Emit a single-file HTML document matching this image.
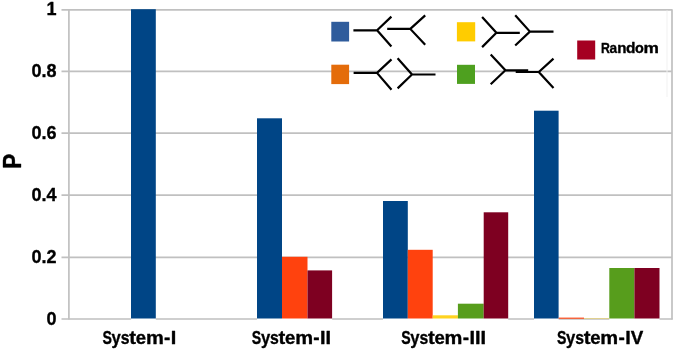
<!DOCTYPE html>
<html lang="en">
<head>
<meta charset="utf-8">
<title>Chart</title>
<style>
  html, body { margin: 0; padding: 0; background: #ffffff; }
  body { width: 675px; height: 349px; overflow: hidden; }
  svg { display: block; }
  .ax { font-family: "Liberation Sans", sans-serif; font-weight: bold; fill: #000; stroke: #000; stroke-width: 0.35px; stroke-linejoin: round; }
</style>
</head>
<body>
<svg width="675" height="349" viewBox="0 0 675 349">
  <rect x="0" y="0" width="675" height="349" fill="#ffffff"/>

  <!-- grid lines -->
  <g stroke="#c0c0c0" stroke-width="1.7" fill="none">
    <line x1="61.5" y1="9.8" x2="672" y2="9.8"/>
    <line x1="61.5" y1="71.4" x2="672" y2="71.4"/>
    <line x1="61.5" y1="133.2" x2="672" y2="133.2"/>
    <line x1="61.5" y1="195.2" x2="672" y2="195.2"/>
    <line x1="61.5" y1="257.3" x2="672" y2="257.3"/>
    <path d="M61.5 319 H131 M155.8 319 H257 M332.1 319 H383 M508.2 319 H534 M558.6 319 H609.3 M659.5 319 H672.7"/>
    <line x1="68.9" y1="9.2" x2="68.9" y2="319.6"/>
    <line x1="672" y1="9.2" x2="672" y2="319.6"/>
  </g>

  <line x1="667" y1="10.5" x2="667" y2="97" stroke="#f1f1f1" stroke-width="1"/>

  <!-- bars -->
  <g shape-rendering="auto">
    <!-- System-I -->
    <rect x="131" y="9.2" width="24.8" height="309.3" fill="#004586"/>
    <!-- System-II -->
    <rect x="257" y="118.3" width="25" height="200.2" fill="#004586"/>
    <rect x="282" y="256.8" width="25.5" height="61.7" fill="#ff420e"/>
    <rect x="307.5" y="270.4" width="24.6" height="48.1" fill="#7e0021"/>
    <!-- System-III -->
    <rect x="383" y="201" width="24.8" height="117.5" fill="#004586"/>
    <rect x="407.8" y="249.8" width="24.9" height="68.7" fill="#ff420e"/>
    <rect x="432.7" y="315.3" width="25.2" height="3.2" fill="#ffd320"/>
    <rect x="457.9" y="303.7" width="25.8" height="14.8" fill="#579d1c"/>
    <rect x="483.7" y="212.3" width="24.5" height="106.2" fill="#7e0021"/>
    <!-- System-IV -->
    <rect x="534" y="110.7" width="24.6" height="207.8" fill="#004586"/>
    <rect x="558.6" y="317.5" width="25.4" height="1.5" fill="#ff420e" opacity="0.75"/>
    <rect x="584" y="318" width="25.2" height="0.8" fill="#ffd320" opacity="0.45"/>
    <rect x="609.3" y="268" width="25.1" height="50.5" fill="#579d1c"/>
    <rect x="634.4" y="268" width="25.1" height="50.5" fill="#7e0021"/>
  </g>

  <!-- y axis labels -->
  <g class="ax" font-size="18" text-anchor="end">
    <text x="56.6" y="15.4">1</text>
    <text x="56.6" y="77">0.8</text>
    <text x="56.6" y="138.8">0.6</text>
    <text x="56.6" y="200.8">0.4</text>
    <text x="56.6" y="262.8">0.2</text>
    <text x="56.6" y="324.6">0</text>
  </g>
  <text class="ax" font-size="25" stroke="#000" stroke-width="0.4" text-anchor="middle" transform="translate(21.4 161.2) rotate(-90) scale(0.9 1)">P</text>

  <!-- x axis labels -->
  <g class="ax" font-size="19">
    <text y="343.7"><tspan x="102.50" textLength="9.40" lengthAdjust="spacingAndGlyphs">S</tspan><tspan x="111.60" textLength="9.25" lengthAdjust="spacingAndGlyphs">y</tspan><tspan x="120.80" textLength="8.80" lengthAdjust="spacingAndGlyphs">s</tspan><tspan x="129.25" textLength="6.75" lengthAdjust="spacingAndGlyphs">t</tspan><tspan x="135.80" textLength="10.30" lengthAdjust="spacingAndGlyphs">e</tspan><tspan x="145.90" textLength="17.87" lengthAdjust="spacingAndGlyphs">m</tspan><tspan x="164.00" textLength="6.33" lengthAdjust="spacingAndGlyphs">-</tspan><tspan x="170.80" textLength="5.53" lengthAdjust="spacingAndGlyphs">I</tspan></text>
    <text y="343.7"><tspan x="251.80" textLength="9.40" lengthAdjust="spacingAndGlyphs">S</tspan><tspan x="260.90" textLength="9.25" lengthAdjust="spacingAndGlyphs">y</tspan><tspan x="270.10" textLength="8.80" lengthAdjust="spacingAndGlyphs">s</tspan><tspan x="278.55" textLength="6.75" lengthAdjust="spacingAndGlyphs">t</tspan><tspan x="285.10" textLength="10.30" lengthAdjust="spacingAndGlyphs">e</tspan><tspan x="295.20" textLength="17.87" lengthAdjust="spacingAndGlyphs">m</tspan><tspan x="313.30" textLength="6.33" lengthAdjust="spacingAndGlyphs">-</tspan><tspan x="320.10" textLength="5.53" lengthAdjust="spacingAndGlyphs">I</tspan><tspan x="325.63" textLength="5.53" lengthAdjust="spacingAndGlyphs">I</tspan></text>
    <text y="343.7"><tspan x="401.20" textLength="9.40" lengthAdjust="spacingAndGlyphs">S</tspan><tspan x="410.30" textLength="9.25" lengthAdjust="spacingAndGlyphs">y</tspan><tspan x="419.50" textLength="8.80" lengthAdjust="spacingAndGlyphs">s</tspan><tspan x="427.95" textLength="6.75" lengthAdjust="spacingAndGlyphs">t</tspan><tspan x="434.50" textLength="10.30" lengthAdjust="spacingAndGlyphs">e</tspan><tspan x="444.60" textLength="17.87" lengthAdjust="spacingAndGlyphs">m</tspan><tspan x="462.70" textLength="6.33" lengthAdjust="spacingAndGlyphs">-</tspan><tspan x="469.50" textLength="5.53" lengthAdjust="spacingAndGlyphs">I</tspan><tspan x="475.03" textLength="5.53" lengthAdjust="spacingAndGlyphs">I</tspan><tspan x="480.56" textLength="5.53" lengthAdjust="spacingAndGlyphs">I</tspan></text>
    <text y="343.7"><tspan x="556.90" textLength="9.40" lengthAdjust="spacingAndGlyphs">S</tspan><tspan x="566.00" textLength="9.25" lengthAdjust="spacingAndGlyphs">y</tspan><tspan x="575.20" textLength="8.80" lengthAdjust="spacingAndGlyphs">s</tspan><tspan x="583.65" textLength="6.75" lengthAdjust="spacingAndGlyphs">t</tspan><tspan x="590.20" textLength="10.30" lengthAdjust="spacingAndGlyphs">e</tspan><tspan x="600.30" textLength="17.87" lengthAdjust="spacingAndGlyphs">m</tspan><tspan x="618.40" textLength="6.33" lengthAdjust="spacingAndGlyphs">-</tspan><tspan x="625.20" textLength="5.53" lengthAdjust="spacingAndGlyphs">I</tspan><tspan x="630.73" textLength="12.54" lengthAdjust="spacingAndGlyphs">V</tspan></text>
  </g>

  <!-- legend -->
  <g>
    <rect x="331.3" y="21.8" width="17.8" height="19.7" fill="#2f5c9c"/>
    <rect x="331.3" y="64.7" width="17.8" height="19.4" fill="#e46c0a"/>
    <rect x="456.9" y="22.2" width="18.3" height="19.2" fill="#ffcc00"/>
    <rect x="457" y="64.8" width="18" height="19.1" fill="#4ea01f"/>
    <rect x="577.2" y="40.5" width="18" height="19" fill="#a50021"/>
    <text class="ax" font-size="14.8" y="52.9"><tspan x="600.90" textLength="8.87" lengthAdjust="spacingAndGlyphs">R</tspan><tspan x="609.60" textLength="7.60" lengthAdjust="spacingAndGlyphs">a</tspan><tspan x="617.30" textLength="9.24" lengthAdjust="spacingAndGlyphs">n</tspan><tspan x="626.00" textLength="9.45" lengthAdjust="spacingAndGlyphs">d</tspan><tspan x="634.90" textLength="8.83" lengthAdjust="spacingAndGlyphs">o</tspan><tspan x="643.45" textLength="15.40" lengthAdjust="spacingAndGlyphs">m</tspan></text>
  </g>
  <g stroke="#000" stroke-width="2.2" fill="none" stroke-linecap="butt" stroke-linejoin="miter">
    <!-- blue row -->
    <path d="M353.4 30.3 H377.1 M391.4 16.6 L377.1 30.3 L391.4 46.4"/>
    <path d="M387.2 28.9 H410.3 M425.2 15.4 L410.3 28.9 L425.2 44.7"/>
    <!-- orange row -->
    <path d="M353.6 72.9 H377 M391.5 59.4 L377 72.9 L391.5 89.7"/>
    <path d="M435.5 74.5 H412 M397.6 58.3 L412 74.5 L397.6 88.4"/>
    <!-- yellow row -->
    <path d="M519.8 32.8 H496.4 M482.1 17 L496.4 32.8 L482.1 47.1"/>
    <path d="M553.5 31.6 H529.9 M515.2 15.3 L529.9 31.6 L515.2 45.5"/>
    <!-- green row -->
    <path d="M528.2 70.3 H505.4 M490.7 54.5 L505.4 70.3 L490.7 84.2"/>
    <path d="M515.7 72 H538.8 M553.5 58.6 L538.8 72 L553.5 87.9"/>
  </g>
</svg>
</body>
</html>
